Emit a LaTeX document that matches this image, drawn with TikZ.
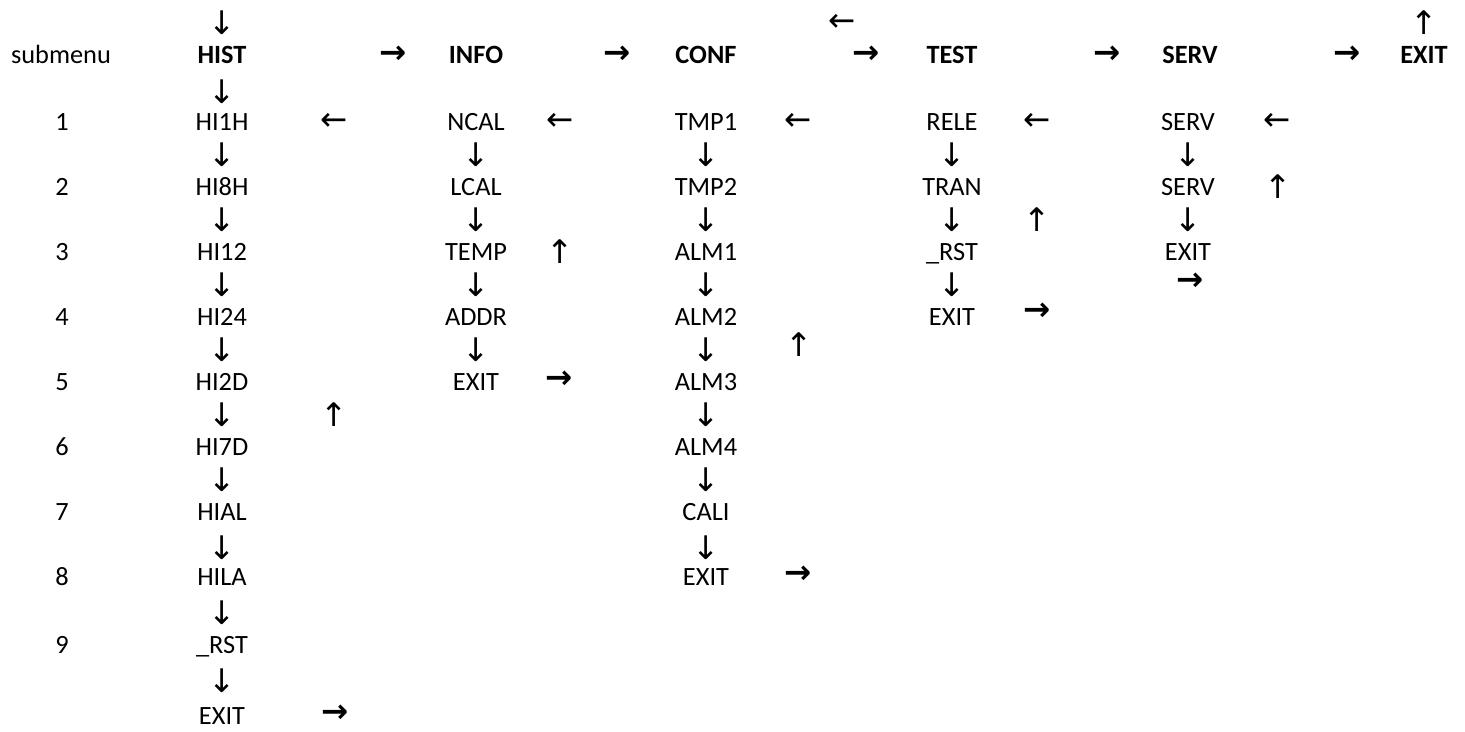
\documentclass[tikz,border=0pt]{standalone}
\usepackage{fontspec}
\setmainfont{Carlito}
\newfontfamily\arrowfont{DejaVu Sans}

\tikzset{cell/.style={font=\fontsize{15}{18}\selectfont,inner sep=0pt,
                      text height=9.7pt,text depth=0pt},
         hdr/.style={cell,font=\fontsize{15}{18}\selectfont\bfseries},
         arr/.style={inner sep=0pt,font=\fontsize{18.5}{20}\selectfont\arrowfont},
         barr/.style={arr,font=\fontsize{18.5}{20}\selectfont\arrowfont\bfseries}}

\begin{document}
\begin{tikzpicture}[x=0.02cm,y=-0.02cm]
  \useasboundingbox (0,0) rectangle (1465,731);

  % row labels
  \node[cell] (sub) at (61,55) {submenu};
  \foreach \n/\y in {1/121.5,2/186.5,3/251.5,4/316.5,5/381.5,6/446.5,7/511.5,8/576.5,9/645}
    \node[cell] (n\n) at (62,\y) {\n};

  % top line and headers
  \node[arr]  (top)  at (222,23)  {↓};
  \node[arr]  (back) at (842,23)  {←};
  \node[arr]  (up)   at (1424,23) {↑};
  \node[hdr]  (hist) at (222,55)  {HIST};
  \node[barr] (h1)   at (393,55)  {→};
  \node[hdr]  (info) at (476,55)  {INFO};
  \node[barr] (h2)   at (617,55)  {→};
  \node[hdr]  (conf) at (706,55)  {CONF};
  \node[barr] (h3)   at (866,55)  {→};
  \node[hdr]  (test) at (952,55)  {TEST};
  \node[barr] (h4)   at (1107,55) {→};
  \node[hdr]  (serv) at (1190,55) {SERV};
  \node[barr] (h5)   at (1347,55) {→};
  \node[hdr]  (exit) at (1424,55) {EXIT};
  \node[arr]  (hd)   at (222,92)  {↓};

  % HIST
  \foreach \i/\t/\y in {1/HI1H/121.5,2/HI8H/186.5,3/HI12/251.5,4/HI24/316.5,5/HI2D/381.5,
                        6/HI7D/446.5,7/HIAL/511.5,8/HILA/576.5,9/\_RST/645,10/EXIT/716}
    \node[cell] (hi\i) at (222,\y) {\t};
  \foreach \i/\y in {1/155,2/220,3/285,4/350,5/415,6/480,7/547.5,8/612.5,9/681}
    \node[arr] (hid\i) at (222,\y) {↓};
  \node[arr]  (la1) at (334,121.5) {←};
  \node[arr]  (la2) at (334,415)   {↑};
  \node[barr] (la3) at (335,714)   {→};

  % INFO
  \foreach \i/\t/\y in {1/NCAL/121.5,2/LCAL/186.5,3/TEMP/251.5,4/ADDR/316.5,5/EXIT/381.5}
    \node[cell] (in\i) at (476,\y) {\t};
  \foreach \i/\y in {1/155,2/220,3/285,4/350}
    \node[arr] (ind\i) at (476,\y) {↓};
  \node[arr]  (lb1) at (560,121.5) {←};
  \node[arr]  (lb2) at (560,251.5) {↑};
  \node[barr] (lb3) at (559,380)   {→};

  % CONF
  \foreach \i/\t/\y in {1/TMP1/121.5,2/TMP2/186.5,3/ALM1/251.5,4/ALM2/316.5,5/ALM3/381.5,
                        6/ALM4/446.5,7/CALI/511.5,8/EXIT/576.5}
    \node[cell] (co\i) at (706,\y) {\t};
  \foreach \i/\y in {1/155,2/220,3/285,4/350,5/415,6/480,7/547.5}
    \node[arr] (cod\i) at (706,\y) {↓};
  \node[arr]  (lc1) at (798,121.5) {←};
  \node[arr]  (lc2) at (799,345)   {↑};
  \node[barr] (lc3) at (798,575)   {→};

  % TEST
  \foreach \i/\t/\y in {1/RELE/121.5,2/TRAN/186.5,3/\_RST/251.5,4/EXIT/316.5}
    \node[cell] (te\i) at (952,\y) {\t};
  \foreach \i/\y in {1/155,2/220,3/285}
    \node[arr] (ted\i) at (952,\y) {↓};
  \node[arr]  (ld1) at (1037,121.5) {←};
  \node[arr]  (ld2) at (1037,220)   {↑};
  \node[barr] (ld3) at (1037,312)   {→};

  % SERV
  \foreach \i/\t/\y in {1/SERV/121.5,2/SERV/186.5,3/EXIT/251.5}
    \node[cell] (se\i) at (1188,\y) {\t};
  \foreach \i/\y in {1/155,2/220}
    \node[arr] (sed\i) at (1188,\y) {↓};
  \node[barr] (sed3) at (1190,282)   {→};
  \node[arr]  (le1)  at (1277,121.5) {←};
  \node[arr]  (le2)  at (1278,186.5) {↑};

\end{tikzpicture}
\end{document}
